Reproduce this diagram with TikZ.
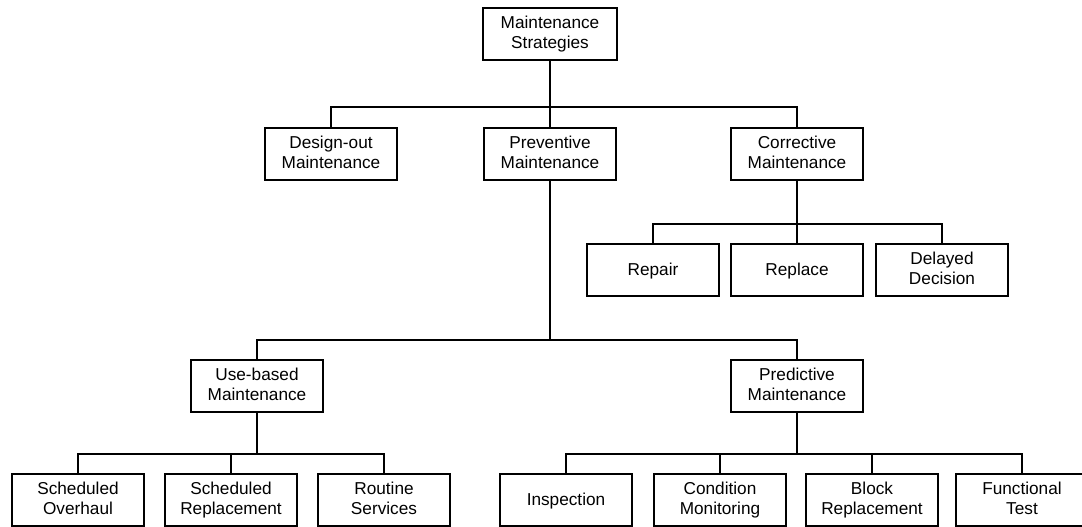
\documentclass[tikz,border=0pt]{standalone}
\usepackage{fontspec}
\setmainfont{Liberation Sans}
\usepackage{tikz}

\tikzset{
  box/.style={draw, line width=1.1pt, minimum width=2.64cm, minimum height=1.03cm,
    inner sep=0pt, align=center, font=\fontsize{9.8pt}{11.3pt}\selectfont,
    execute at begin node=\rule{0pt}{9pt}, execute at end node=\rule[-2.2pt]{0pt}{0pt}},
  link/.style={line width=1.1pt}
}

\begin{document}
\begin{tikzpicture}[x=0.02cm,y=-0.02cm]
\useasboundingbox (0,0) rectangle (1082,527);
%% top level
\node[box, minimum width=2.68cm] (top) at (550,34) {Maintenance\\Strategies};
%% second level
\node[box] (design) at (331,154) {Design-out\\Maintenance};
\node[box] (prev) at (550,154) {Preventive\\Maintenance};
\node[box] (corr) at (797,154) {Corrective\\Maintenance};
%% corrective branch
\node[box] (repair) at (653,270) {Repair};
\node[box] (replace) at (797,270) {Replace};
\node[box] (delayed) at (942,270) {Delayed\\Decision};
%% preventive branch
\node[box] (use) at (257,386) {Use-based\\Maintenance};
\node[box] (pred) at (797,386) {Predictive\\Maintenance};
%% use-based leaves
\node[box] (overhaul) at (78,500) {Scheduled\\Overhaul};
\node[box] (schedrep) at (231,500) {Scheduled\\Replacement};
\node[box] (routine) at (384,500) {Routine\\Services};
%% predictive leaves
\node[box] (insp) at (566,500) {Inspection};
\node[box] (cond) at (720,500) {Condition\\Monitoring};
\node[box] (block) at (872,500) {Block\\Replacement};
\node[box] (func) at (1022,500) {Functional\\Test};
%%% bus points
\path (top.south) ++(0,46) coordinate (bus1);
\path (corr.south) ++(0,43) coordinate (bus2);
\path (prev.south) ++(0,159) coordinate (bus3);
\path (use.south) ++(0,41) coordinate (bus4);
\path (pred.south) ++(0,41) coordinate (bus5);
%%% edges
\draw[link] (top.south) -- (prev.north);
\draw[link] (design.north) |- (bus1) -| (corr.north);
\draw[link] (corr.south) -- (replace.north);
\draw[link] (repair.north) |- (bus2) -| (delayed.north);
\draw[link] (prev.south) -- (bus3);
\draw[link] (use.north) |- (bus3) -| (pred.north);
\draw[link] (use.south) -- (bus4);
\draw[link] (overhaul.north) |- (bus4) -| (routine.north);
\draw[link] (schedrep.north) -- (schedrep.north |- bus4);
\draw[link] (pred.south) -- (bus5);
\draw[link] (insp.north) |- (bus5) -| (func.north);
\draw[link] (cond.north) -- (cond.north |- bus5);
\draw[link] (block.north) -- (block.north |- bus5);
\end{tikzpicture}
\end{document}
